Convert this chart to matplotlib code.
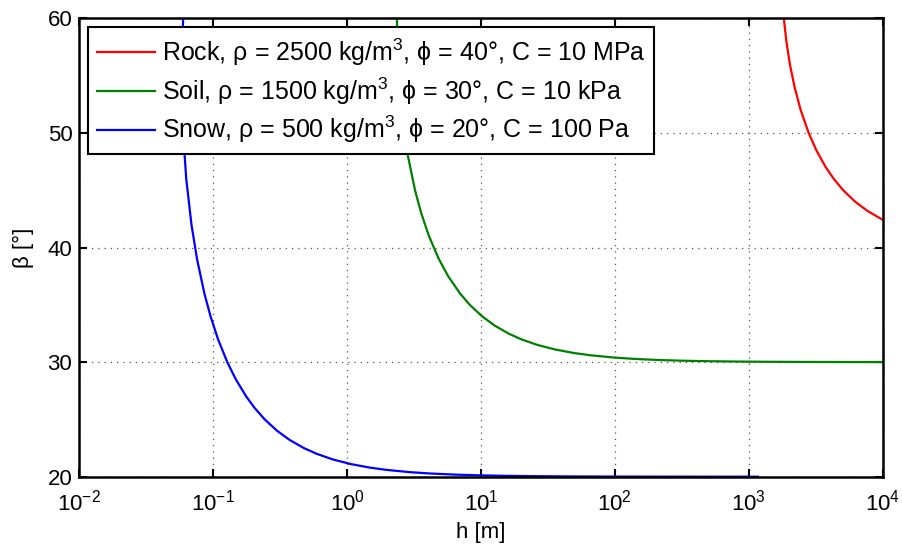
import matplotlib
matplotlib.use("Agg")
import matplotlib.pyplot as plt
from matplotlib.ticker import FixedLocator, LogFormatterSciNotation, NullLocator

# slope angle beta [deg] and matching critical depth h [m]
snow_beta = [60, 55, 50, 46, 42, 39, 36, 34, 32, 30, 28.5, 27, 26, 25, 24, 23.2,
             22.5, 22, 21.5, 21.1, 20.8, 20.6, 20.4, 20.28, 20.18, 20.12, 20.08,
             20.05, 20.03, 20.015, 20.008, 20.004, 20.002, 20.001]
snow_h = [0.05961, 0.05823, 0.05961, 0.06291, 0.06882, 0.07572, 0.08591, 0.09552,
          0.10866, 0.12739, 0.14749, 0.17643, 0.20392, 0.24254, 0.30064, 0.37339,
          0.47540, 0.59206, 0.78658, 1.0697, 1.4678, 1.9545, 2.9280, 4.1793,
          6.4971, 9.7417, 14.609, 23.370, 38.944, 77.881, 146.02, 292.03, 584.06,
          1168.1]

soil_beta = [60, 57, 54, 51, 48, 45, 43, 41, 39, 37.5, 36, 35, 34, 33.2, 32.5, 32,
             31.5, 31.1, 30.8, 30.6, 30.4, 30.28, 30.18, 30.12, 30.08, 30.05,
             30.03, 30.015, 30.008, 30.004, 30.003]
soil_h = [2.3541, 2.3802, 2.4617, 2.6096, 2.8463, 3.2158, 3.5773, 4.0869, 4.8410,
          5.6834, 6.9595, 8.2434, 10.177, 12.600, 15.998, 19.886, 26.368, 35.803,
          49.073, 65.294, 97.738, 139.45, 216.71, 324.87, 487.08, 779.13, 1298.3,
          2596.2, 4867.5, 9734.6, 12979.0]

rock_beta = [60, 58, 56, 54, 52, 50, 48.5, 47, 46, 45, 44, 43.2, 42.5, 42.2]
rock_h = [1826.5, 1907.4, 2026.5, 2196.6, 2440.2, 2798.4, 3189.2, 3758.1, 4301.7,
          5068.2, 6224.9, 7675.8, 9712.7, 10983.6]

xticks = [1e-2, 1e-1, 1e0, 1e1, 1e2, 1e3, 1e4]
yticks = [20, 30, 40, 50, 60]

labels = [r"Rock, ρ = 2500 kg/m$^3$, ϕ = 40°, C = 10 MPa",
          r"Soil, ρ = 1500 kg/m$^3$, ϕ = 30°, C = 10 kPa",
          r"Snow, ρ = 500 kg/m$^3$, ϕ = 20°, C = 100 Pa"]

plt.rcParams["font.family"] = ["Liberation Sans", "DejaVu Sans"]
plt.rcParams["mathtext.fontset"] = "custom"
plt.rcParams["mathtext.rm"] = "Liberation Sans"
plt.rcParams["mathtext.it"] = "Liberation Sans:italic"
plt.rcParams["font.size"] = 16

fig = plt.figure(figsize=(9.02, 5.46), dpi=100)
ax = fig.add_axes([0.0879, 0.1269, 0.8907, 0.8396])

ax.plot(rock_h, rock_beta, color="#ff0000", lw=1.6, label=labels[0])
ax.plot(soil_h, soil_beta, color="#008000", lw=1.6, label=labels[1])
ax.plot(snow_h, snow_beta, color="#0000ff", lw=1.6, label=labels[2])

ax.set_xscale("log")
ax.set_xlim(xticks[0], xticks[-1])
ax.set_ylim(yticks[0], yticks[-1])
ax.xaxis.set_major_locator(FixedLocator(xticks))
ax.xaxis.set_major_formatter(LogFormatterSciNotation())
ax.xaxis.set_minor_locator(NullLocator())
ax.set_yticks(yticks)

ax.grid(True, linestyle=(0, (1, 4)), color="#555555", lw=0.9)
ax.tick_params(direction="in", top=True, right=True, length=6, width=1.5,
               labelsize=16)
ax.tick_params(axis="x", pad=9)
ax.tick_params(axis="y", pad=5)
for s in ax.spines.values():
    s.set_linewidth(1.8)

ax.set_xlabel("h [m]", fontsize=16, labelpad=5)
ax.set_ylabel("β [°]", fontsize=16, labelpad=10)

leg = ax.legend(loc="upper left", bbox_to_anchor=(0.0112, 0.980), borderaxespad=0,
                fancybox=False, framealpha=1, edgecolor="black", fontsize=18,
                handlelength=2.3, handletextpad=0.3, borderpad=0.35,
                labelspacing=0.3)
leg.get_frame().set_linewidth(1.5)

fig.savefig("out.png", dpi=100)
